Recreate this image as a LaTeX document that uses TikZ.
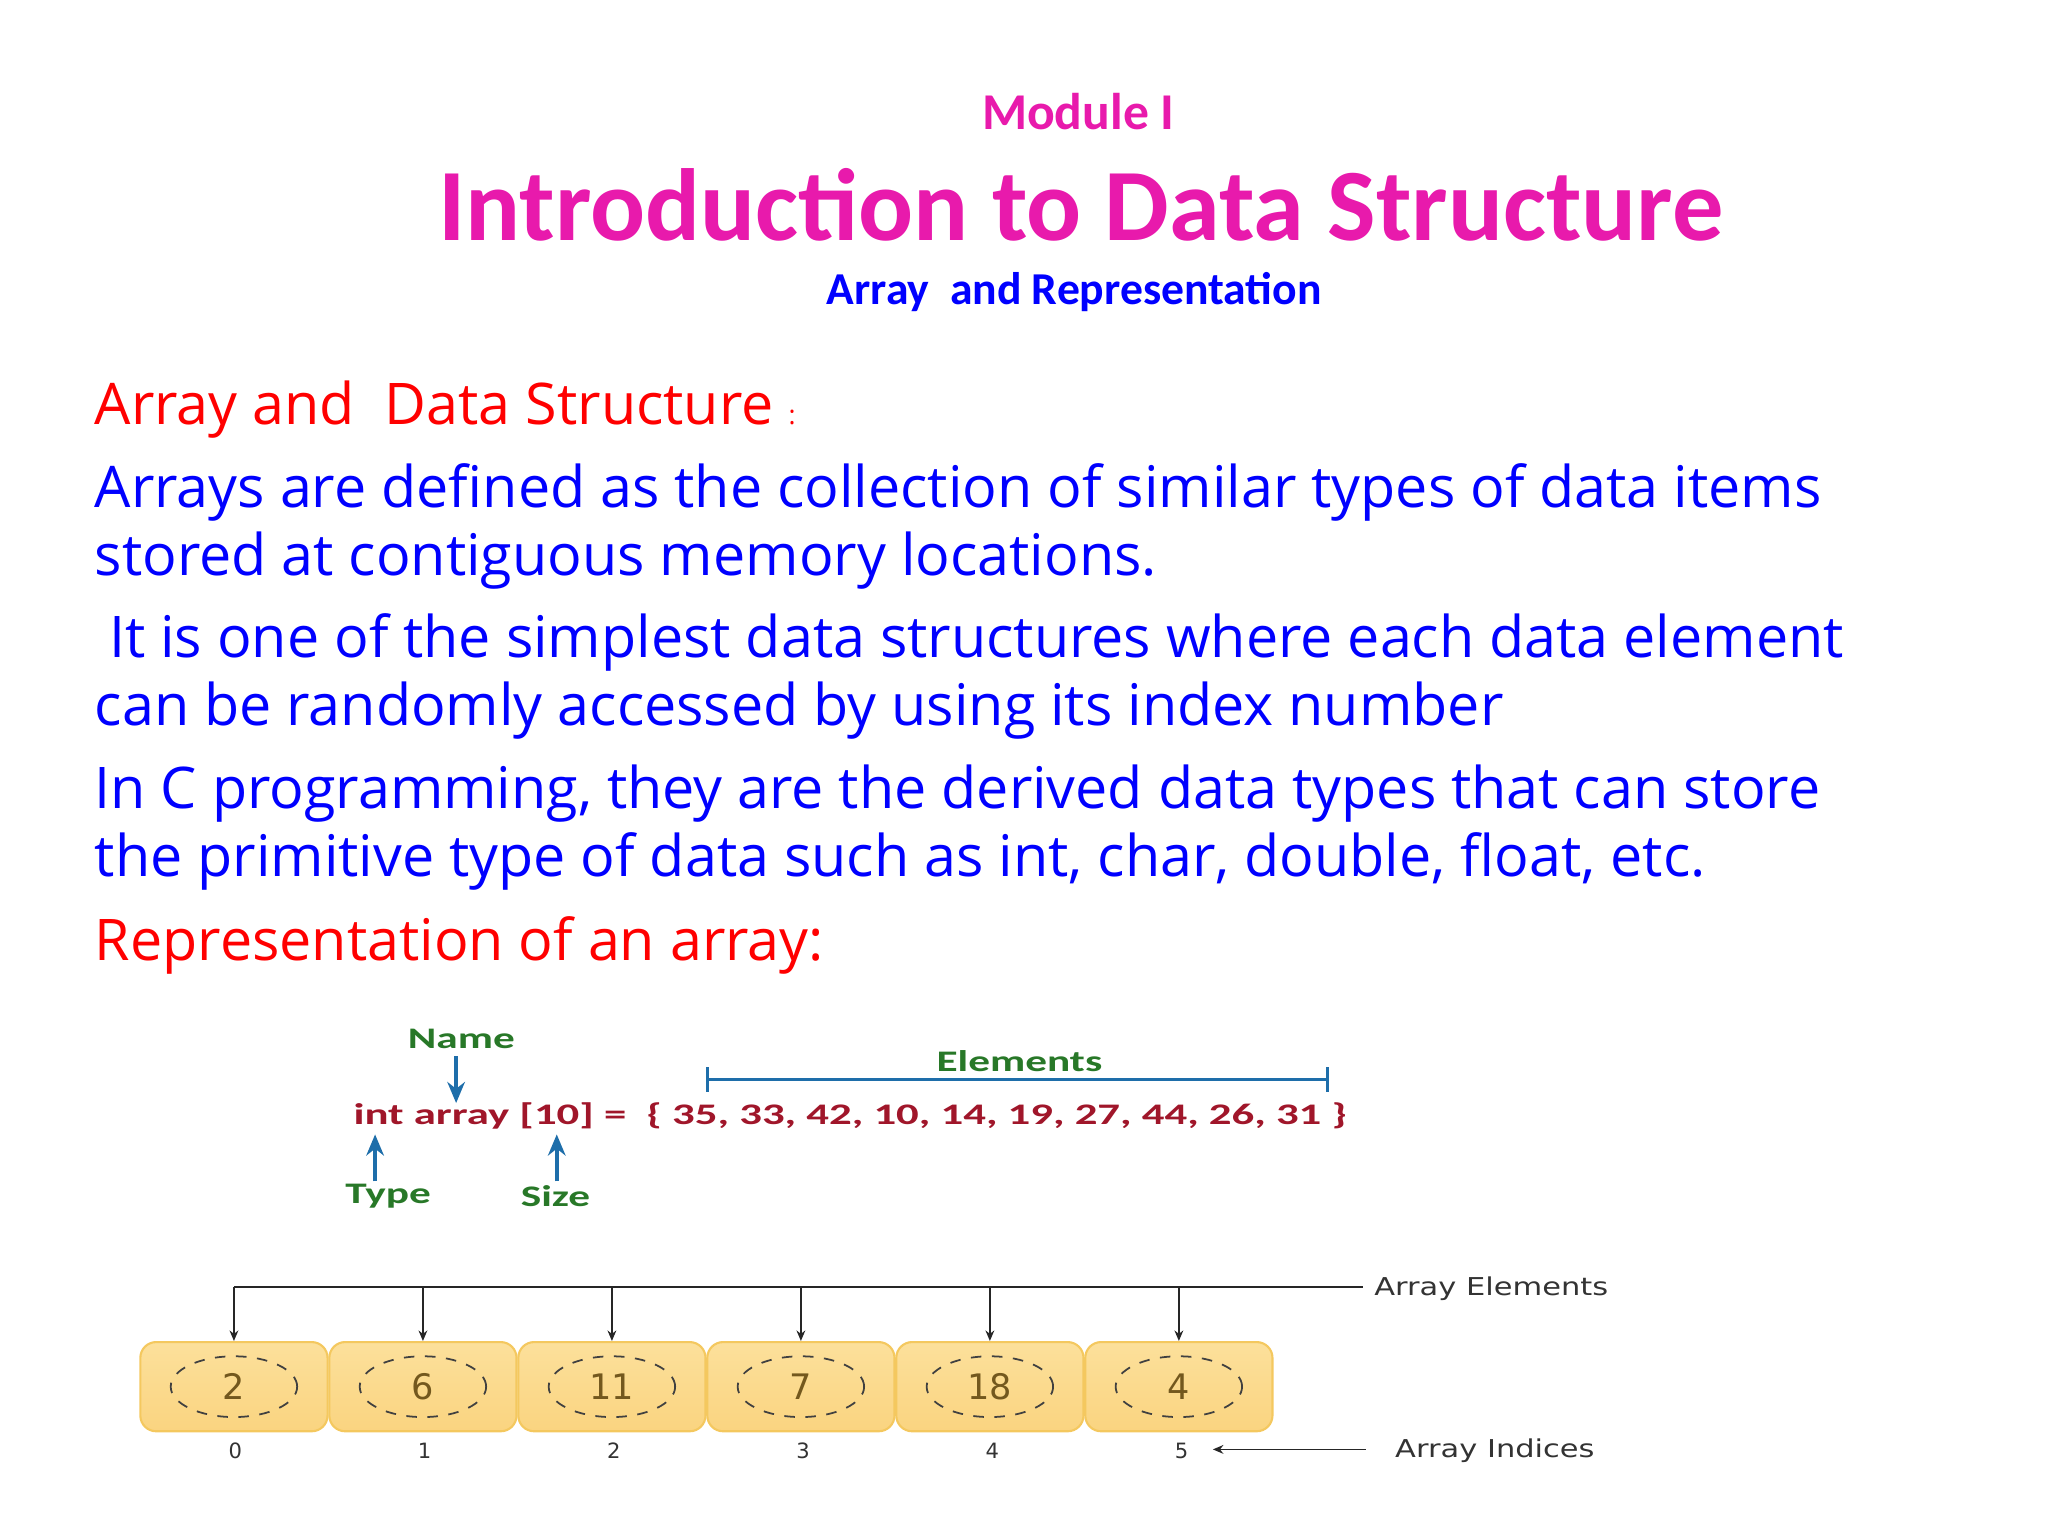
\documentclass[tikz,border=0pt]{standalone}
\usepackage{fontspec}
\setmainfont{Open Sans}
\newfontfamily\carl{Carlito}
\newfontfamily\carlwide[FakeStretch=1.5]{Carlito}
\newfontfamily\carllbl[FakeStretch=1.45]{Carlito}
\newfontfamily\dvs{DejaVu Sans}
\newfontfamily\dvswide[FakeStretch=1.24]{DejaVu Sans}
\usetikzlibrary{arrows.meta,shapes.geometric}
\definecolor{ttlpink}{RGB}{232,26,172}
\definecolor{bodyblue}{RGB}{0,0,255}
\definecolor{bodyred}{RGB}{255,0,0}
\definecolor{codered}{RGB}{160,22,42}
\definecolor{lblgreen}{RGB}{40,120,40}
\definecolor{arrblue}{RGB}{30,110,170}
\definecolor{boxtop}{RGB}{252,224,155}
\definecolor{boxbot}{RGB}{250,212,128}
\definecolor{boxline}{RGB}{244,200,95}
\definecolor{numbrown}{RGB}{115,88,30}
\tikzset{
  bodytxt/.style={anchor=base west,inner sep=0pt,font=\fontsize{16.35}{20}\selectfont},
  cell/.style={draw=boxline,top color=boxtop,bottom color=boxbot,rounded corners=4.5pt,minimum width=53.3pt,minimum height=25.4pt,inner sep=0pt,line width=0.6pt},
  ring/.style={draw=black!75,dashed,line width=0.5pt,ellipse,minimum width=36pt,minimum height=17.3pt,inner sep=0pt,font=\dvs\fontsize{10}{10}\selectfont,text=numbrown},
  idx/.style={font=\dvs\fontsize{6}{6}\selectfont,text=black!80,inner sep=0pt},
  elarrow/.style={-{Stealth[length=3pt,width=2.5pt]},line width=0.5pt,black!85},
  bluearrow/.style={-{Stealth[length=6pt,width=5pt]},line width=1pt,arrblue},
  grn/.style={font=\carllbl\bfseries\fontsize{8.5}{9}\selectfont,text=lblgreen,inner sep=0pt},
  sidelbl/.style={anchor=west,inner sep=0pt,font=\dvswide\fontsize{7}{7}\selectfont,text=black!80}
}
\begin{document}
\begin{tikzpicture}[x=0.01307cm,y=-0.01307cm]
\useasboundingbox (0,0) rectangle (1567,1175.2);
% titles
\node[anchor=base,inner sep=0pt,text=ttlpink,font=\carl\bfseries\fontsize{14.7}{16}\selectfont] (mod) at (825,99) {Module I};
\node[anchor=base,inner sep=0pt,text=ttlpink,font=\carl\bfseries\fontsize{29.2}{32}\selectfont] (ttl) at (827,184) {Introduction to Data Structure};
\node[anchor=base,inner sep=0pt,text=bodyblue,font=\carl\bfseries\fontsize{13}{15}\selectfont] (sub) at (822,233) {Array\ \ and Representation};
% body
\node[bodytxt,text=bodyred] (l1) at (72,325) {Array and\ \ Data Structure {\fontsize{7.5}{8}\selectfont :}};
\node[bodytxt,text=bodyblue] (l2) at (72,388) {Arrays are defined as the collection of similar types of data items};
\node[bodytxt,text=bodyblue] (l3) at (72,440) {stored at contiguous memory locations.};
\node[bodytxt,text=bodyblue] (l4) at (83,503) {It is one of the simplest data structures where each data element};
\node[bodytxt,text=bodyblue] (l5) at (72,555) {can be randomly accessed by using its index number};
\node[bodytxt,text=bodyblue] (l6) at (72,619) {In C programming, they are the derived data types that can store};
\node[bodytxt,text=bodyblue] (l7) at (72,671) {the primitive type of data such as int, char, double, float, etc.};
\node[bodytxt,text=bodyred] (l8) at (72,735) {Representation of an array:};
% declaration figure
\node[anchor=west,inner sep=0pt,text=codered,font=\carlwide\bfseries\fontsize{8.5}{9}\selectfont] (code) at (270,854) {int array [10] =\ \ \{ 35, 33, 42, 10, 14, 19, 27, 44, 26, 31 \}};
\node[grn] (name) at (353,795) {Name};
\node[grn] (elem) at (780,812) {Elements};
\node[grn] (type) at (297,915) {Type};
\node[grn] (size) at (425,915) {Size};
\coordinate (nameTip) at (349,844);
\coordinate (nameTail) at (349,808);
\coordinate (typeTip) at (287,868);
\coordinate (typeTail) at (287,904);
\coordinate (sizeTip) at (426,868);
\coordinate (sizeTail) at (426,904);
\coordinate (elL) at (540,826);
\coordinate (elR) at (1017,826);
\draw[bluearrow] (nameTail) -- (nameTip);
\draw[bluearrow] (typeTail) -- (typeTip);
\draw[bluearrow] (sizeTail) -- (sizeTip);
\draw[arrblue,line width=1pt,{Bar[width=7pt]}-{Bar[width=7pt]}] (elL) -- (elR);
% array cells
\foreach \v [count=\i from 0] in {2,6,11,7,18,4}{
  \node[cell] (box\i) at (179+144.6*\i,1061) {};
  \node[ring] (val\i) at (box\i) {\v};
  \node[idx] (ix\i) at (180+144.8*\i,1110) {\i};
  \coordinate (top\i) at (box\i.north |- 0,985);
  \draw[elarrow] (top\i) -- (box\i.north);
}
\coordinate (aeEnd) at (1043,985);
\draw[line width=0.5pt,black!85] (top0) -- (aeEnd);
\node[sidelbl] (ae) at (1051,986) {Array Elements};
\node[sidelbl] (ai) at (1067,1110) {Array Indices};
\coordinate (aiStart) at (1045,1109);
\coordinate (aiTip) at (928,1109);
\draw[elarrow] (aiStart) -- (aiTip);
\end{tikzpicture}
\end{document}
